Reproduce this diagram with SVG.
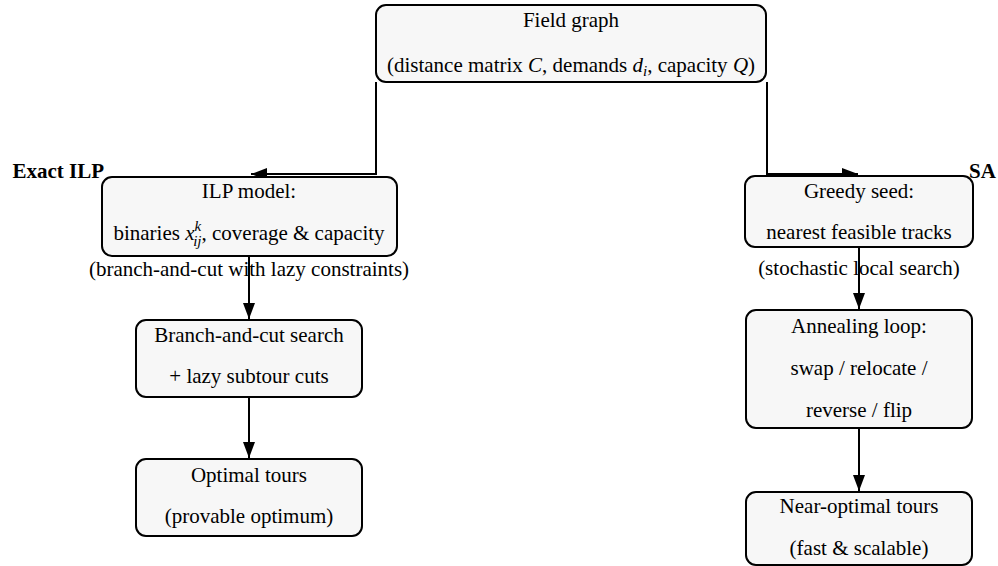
<svg xmlns="http://www.w3.org/2000/svg" width="998" height="566" viewBox="0 0 998 566">
<style>
.box{fill:#f7f7f7;stroke:#000;stroke-width:2}
.t{font-family:"Liberation Serif","Times New Roman",serif;font-size:21px;fill:#000;text-anchor:middle}
.b{font-family:"Liberation Serif","Times New Roman",serif;font-size:21px;font-weight:bold;fill:#000}
.i{font-style:italic}
.s{font-style:italic;font-size:15px}
.c{fill:none;stroke:#000;stroke-width:2}
</style>
<defs>
<marker id="ah" viewBox="0 0 16 12" refX="16" refY="6" markerWidth="16" markerHeight="12" markerUnits="userSpaceOnUse" orient="auto">
<path d="M0,0 L16,6 L0,12 Z" fill="#000"/>
</marker>
</defs>
<g id="connectors">
<path class="c" d="M376,82 V174 H251" marker-end="url(#ah)"/>
<path class="c" d="M767,82 V174 H858" marker-end="url(#ah)"/>
<path class="c" d="M249,256 V319" marker-end="url(#ah)"/>
<path class="c" d="M249,397 V458" marker-end="url(#ah)"/>
<path class="c" d="M859,247 V309" marker-end="url(#ah)"/>
<path class="c" d="M859,428 V491" marker-end="url(#ah)"/>
</g>
<g id="field">
<rect class="box" x="376" y="5" width="390" height="77" rx="10"/>
<text class="t" x="571" y="27">Field graph</text>
<text class="t" x="571" y="72">(distance matrix <tspan class="i">C</tspan>, demands <tspan class="i">d</tspan><tspan class="s" dy="4">i</tspan><tspan dy="-4">, capacity </tspan><tspan class="i">Q</tspan>)</text>
</g>
<g id="ilp">
<rect class="box" x="102" y="177" width="295" height="79" rx="10"/>
<text class="b" x="104" y="178" text-anchor="end">Exact ILP</text>
<text class="t" x="249" y="198">ILP model:</text>
<text class="t" x="249" y="240">binaries <tspan class="i">x</tspan><tspan class="s" dy="-9">k</tspan><tspan class="s" dx="-8" dy="15">ij</tspan><tspan dy="-6">, coverage &amp; capacity</tspan></text>
<text class="t" x="249" y="276">(branch-and-cut with lazy constraints)</text>
</g>
<g id="bnc">
<rect class="box" x="136" y="320" width="226" height="77" rx="10"/>
<text class="t" x="249" y="342">Branch-and-cut search</text>
<text class="t" x="249" y="383">+ lazy subtour cuts</text>
</g>
<g id="optimal">
<rect class="box" x="136" y="459" width="226" height="77" rx="10"/>
<text class="t" x="249" y="482">Optimal tours</text>
<text class="t" x="249" y="523">(provable optimum)</text>
</g>
<g id="greedy">
<rect class="box" x="745" y="176" width="228" height="71" rx="10"/>
<text class="b" x="969" y="178">SA</text>
<text class="t" x="859" y="198">Greedy seed:</text>
<text class="t" x="859" y="239">nearest feasible tracks</text>
<text class="t" x="859" y="275">(stochastic local search)</text>
</g>
<g id="anneal">
<rect class="box" x="746" y="310" width="226" height="118" rx="10"/>
<text class="t" x="859" y="333">Annealing loop:</text>
<text class="t" x="859" y="375">swap / relocate /</text>
<text class="t" x="859" y="417">reverse / flip</text>
</g>
<g id="near">
<rect class="box" x="746" y="492" width="226" height="73" rx="10"/>
<text class="t" x="859" y="513">Near-optimal tours</text>
<text class="t" x="859" y="555">(fast &amp; scalable)</text>
</g>
</svg>
